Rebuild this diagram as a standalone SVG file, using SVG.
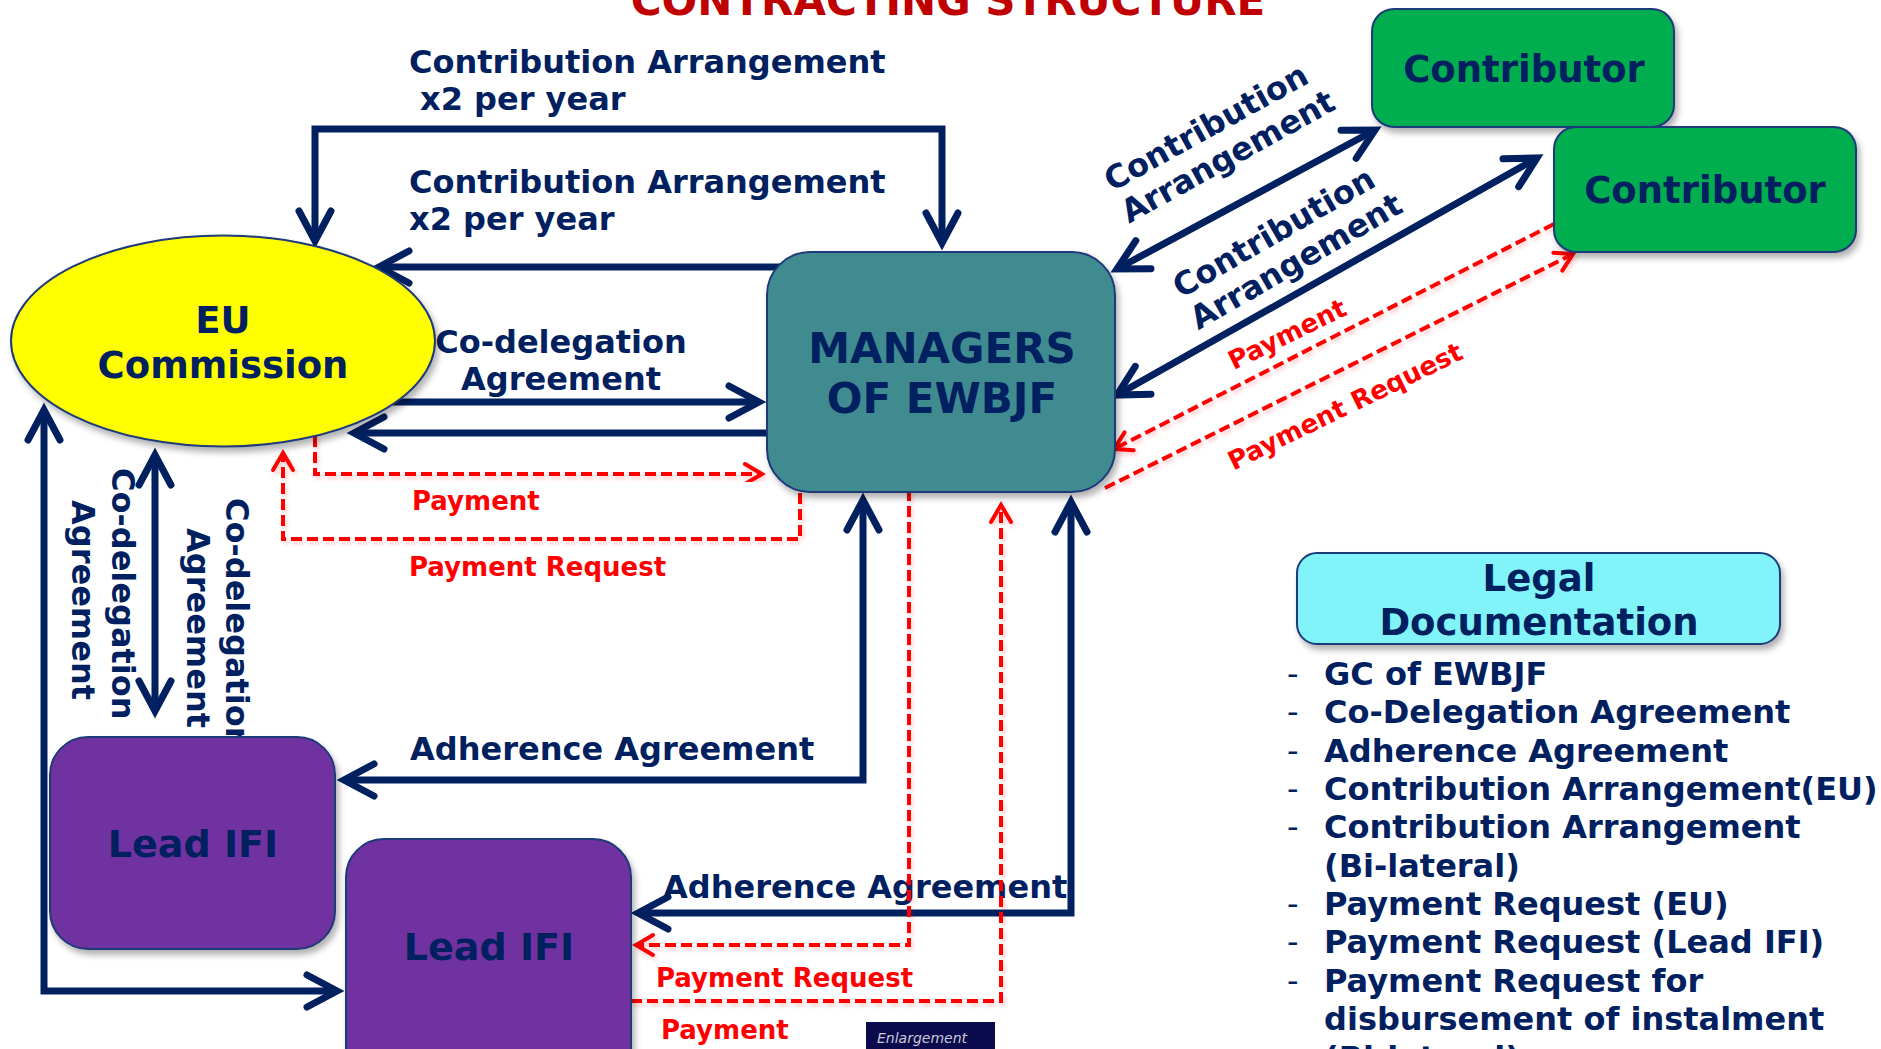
<svg xmlns="http://www.w3.org/2000/svg" width="1881" height="1049" viewBox="0 0 1881 1049">
<style>
  .t { font-family: "DejaVu Sans", Verdana, sans-serif; font-weight: bold; }
  .navy { fill: #002060; }
  .red { fill: #FF0000; }
  .lbl { font-size: 32px; }
  .rlbl { font-size: 26px; }
  .node { stroke: #1F3A78; stroke-width: 2; filter: url(#shadow); }
  .nl { stroke: #002060; stroke-width: 7; fill: none; stroke-linejoin: miter; }
  .rl { stroke: #FF0000; stroke-width: 4; fill: none; stroke-dasharray: 11 5; filter: url(#rshadow); }
  .list { font-size: 32px; }
</style>
<defs>
  <filter id="shadow" x="-10%" y="-10%" width="130%" height="130%">
    <feDropShadow dx="3" dy="5" stdDeviation="3" flood-color="#000" flood-opacity="0.3"/>
  </filter>
  <filter id="rshadow" x="-10%" y="-10%" width="130%" height="130%">
    <feDropShadow dx="2" dy="3" stdDeviation="2" flood-color="#FF0000" flood-opacity="0.2"/>
  </filter>
  <marker id="na" markerUnits="userSpaceOnUse" viewBox="-45 -25 60 50" refX="0" refY="0" markerWidth="60" markerHeight="50" orient="auto-start-reverse">
    <path d="M-30,-16 L0,0 L-30,16" fill="none" stroke="#002060" stroke-width="7" stroke-linecap="round" stroke-linejoin="miter"/>
  </marker>
  <marker id="ra" markerUnits="userSpaceOnUse" viewBox="-25 -15 35 30" refX="0" refY="0" markerWidth="35" markerHeight="30" orient="auto-start-reverse">
    <path d="M-17,-10 L0,0 L-17,10" fill="none" stroke="#FF0000" stroke-width="4" stroke-linecap="round"/>
  </marker>
</defs>
<rect width="1881" height="1049" fill="#FFFFFF"/>

<text class="t" x="948" y="15" font-size="42" text-anchor="middle" fill="#C00000">CONTRACTING STRUCTURE</text>

<g id="labels">
  <text class="t navy lbl" x="409" y="73">Contribution Arrangement</text>
  <text class="t navy lbl" x="420" y="110">x2 per year</text>
  <text class="t navy lbl" x="409" y="193">Contribution Arrangement</text>
  <text class="t navy lbl" x="409" y="230">x2 per year</text>
  <text class="t navy lbl" x="561" y="353" text-anchor="middle">Co-delegation</text>
  <text class="t navy lbl" x="561" y="390" text-anchor="middle">Agreement</text>
  <text class="t red rlbl" x="412" y="510">Payment</text>
  <text class="t red rlbl" x="409" y="576">Payment Request</text>
  <text class="t navy lbl" transform="translate(112,468) rotate(90)">Co-delegation</text>
  <text class="t navy lbl" transform="translate(72,500) rotate(90)">Agreement</text>
  <text class="t navy lbl" transform="translate(187,528) rotate(90)">Agreement</text>
  <text class="t navy lbl" transform="translate(226,498) rotate(90)">Co-delegation</text>
  <text class="t navy lbl" x="410" y="760">Adherence Agreement</text>
  <text class="t navy lbl" x="663" y="898">Adherence Agreement</text>
  <text class="t red rlbl" x="656" y="987">Payment Request</text>
  <text class="t red rlbl" x="661" y="1039">Payment</text>
  <g transform="translate(1217,143) rotate(-29)">
    <text class="t navy lbl" x="-2" y="-8" text-anchor="middle">Contribution</text>
    <text class="t navy lbl" x="3" y="28" text-anchor="middle">Arrangement</text>
  </g>
  <g transform="translate(1285,248) rotate(-30)">
    <text class="t navy lbl" x="-2" y="-8" text-anchor="middle">Contribution</text>
    <text class="t navy lbl" x="3" y="28" text-anchor="middle">Arrangement</text>
  </g>
  <text class="t red rlbl" transform="translate(1288,336) rotate(-26)" y="7" text-anchor="middle">Payment</text>
  <text class="t red rlbl" transform="translate(1346,408) rotate(-26)" y="7" text-anchor="middle">Payment Request</text>
</g>

<g id="connectors">
  <path class="nl" d="M315,241 L315,129 L942,129 L942,243" marker-start="url(#na)" marker-end="url(#na)"/>
  <path class="nl" d="M800,267 L379,267" marker-end="url(#na)"/>
  <path class="nl" d="M380,402 L759,402" marker-end="url(#na)"/>
  <path class="nl" d="M800,433 L354,433" marker-end="url(#na)"/>
  <path class="nl" d="M44,410 L44,991 L337,991" marker-start="url(#na)" marker-end="url(#na)"/>
  <path class="nl" d="M155,455 L155,711" marker-start="url(#na)" marker-end="url(#na)"/>
  <path class="nl" d="M863,500 L863,780 L344,780" marker-start="url(#na)" marker-end="url(#na)"/>
  <path class="nl" d="M1071,502 L1071,913 L638,913" marker-start="url(#na)" marker-end="url(#na)"/>
  <path class="nl" d="M1117,269 L1375,130" marker-start="url(#na)" marker-end="url(#na)"/>
  <path class="nl" d="M1117,395 L1537,158" marker-start="url(#na)" marker-end="url(#na)"/>

  <path class="rl" d="M315,436 L315,474 L762,474" marker-end="url(#ra)"/>
  <path class="rl" d="M800,493 L800,539 L283,539 L283,453" marker-end="url(#ra)"/>
  <path class="rl" d="M909,490 L909,945 L636,945" marker-end="url(#ra)"/>
  <path class="rl" d="M631,1001 L1001,1001 L1001,505" marker-end="url(#ra)"/>
  <path class="rl" d="M1554,224 L1114,449" marker-end="url(#ra)"/>
  <path class="rl" d="M1105,488 L1573,254" marker-end="url(#ra)"/>
</g>

<g id="eu">
  <ellipse class="node" cx="223" cy="341" rx="212" ry="105.5" fill="#FFFF00"/>
  <text class="t navy" x="223" y="333" font-size="37" text-anchor="middle">EU</text>
  <text class="t navy" x="223" y="378" font-size="37" text-anchor="middle">Commission</text>
</g>
<g id="managers">
  <rect class="node" x="767" y="252" width="348" height="240" rx="43" fill="#3F8B90"/>
  <text class="t navy" x="942" y="363" font-size="42" text-anchor="middle">MANAGERS</text>
  <text class="t navy" x="942" y="413" font-size="42" text-anchor="middle">OF EWBJF</text>
</g>
<g id="contributor1">
  <rect class="node" x="1372" y="9" width="302" height="118" rx="22" fill="#00AD4F"/>
  <text class="t navy" x="1524" y="82" font-size="37" text-anchor="middle">Contributor</text>
</g>
<g id="contributor2">
  <rect class="node" x="1554" y="127" width="302" height="125" rx="22" fill="#00AD4F"/>
  <text class="t navy" x="1705" y="203" font-size="37" text-anchor="middle">Contributor</text>
</g>
<g id="leadifi1">
  <rect class="node" x="50" y="737" width="285" height="212" rx="38" fill="#7030A0"/>
  <text class="t navy" x="193" y="857" font-size="38" text-anchor="middle">Lead IFI</text>
</g>
<g id="leadifi2">
  <rect class="node" x="346" y="839" width="285" height="250" rx="38" fill="#7030A0"/>
  <text class="t navy" x="489" y="960" font-size="38" text-anchor="middle">Lead IFI</text>
</g>
<g id="legal">
  <rect class="node" x="1297" y="553" width="483" height="91" rx="20" fill="#80F4F8"/>
  <text class="t navy" x="1539" y="591" font-size="37" text-anchor="middle">Legal</text>
  <text class="t navy" x="1539" y="635" font-size="37" text-anchor="middle">Documentation</text>
</g>
<g id="legal-list">
  <g class="navy" font-family="DejaVu Sans, sans-serif" font-size="32">
    <text x="1287" y="685">-</text>
    <text x="1287" y="723">-</text>
    <text x="1287" y="762">-</text>
    <text x="1287" y="800">-</text>
    <text x="1287" y="838">-</text>
    <text x="1287" y="915">-</text>
    <text x="1287" y="953">-</text>
    <text x="1287" y="992">-</text>
  </g>
  <text class="t navy list" x="1324" y="685">GC of EWBJF</text>
  <text class="t navy list" x="1324" y="723">Co-Delegation Agreement</text>
  <text class="t navy list" x="1324" y="762">Adherence Agreement</text>
  <text class="t navy list" x="1324" y="800">Contribution Arrangement(EU)</text>
  <text class="t navy list" x="1324" y="838">Contribution Arrangement</text>
  <text class="t navy list" x="1324" y="877">(Bi-lateral)</text>
  <text class="t navy list" x="1324" y="915">Payment Request (EU)</text>
  <text class="t navy list" x="1324" y="953">Payment Request (Lead IFI)</text>
  <text class="t navy list" x="1324" y="992">Payment Request for</text>
  <text class="t navy list" x="1324" y="1030">disbursement of instalment</text>
  <text class="t navy list" x="1324" y="1069">(Bi-lateral)</text>
</g>
<g id="enlargement">
  <rect x="866" y="1022" width="129" height="30" fill="#0B0A4C"/>
  <text x="922" y="1043" font-family="DejaVu Sans, sans-serif" font-style="italic" font-size="14" fill="#C8C8D8" text-anchor="middle">Enlargement</text>
</g>
</svg>
